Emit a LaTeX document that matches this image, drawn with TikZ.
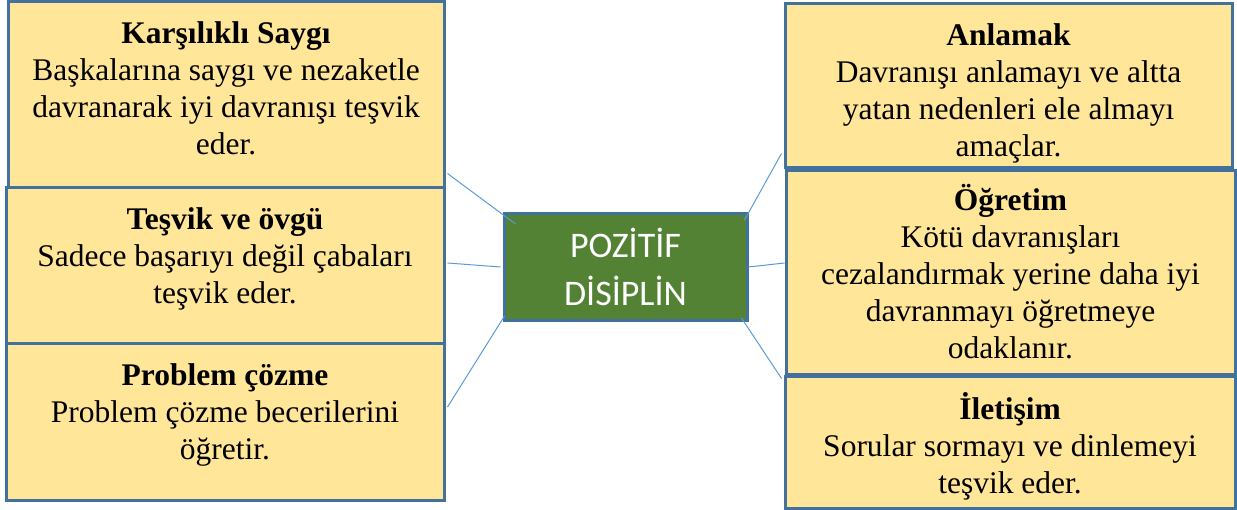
\documentclass[tikz,border=0pt]{standalone}
\usepackage{fontspec}
\setmainfont{Liberation Serif}
\newfontfamily\calfont{Carlito}
\definecolor{boxfill}{HTML}{FFE699}
\definecolor{boxline}{HTML}{41719C}
\definecolor{midfill}{HTML}{548235}
\definecolor{linkline}{HTML}{5B9BD5}

\begin{document}
\begin{tikzpicture}[x=1pt, y=-1pt,
  card/.style={draw=boxline, line width=3pt, fill=boxfill, rectangle, inner sep=0pt},
  cardtext/.style={anchor=north, inner sep=0pt, align=center, font=\fontsize{31.5}{37}\selectfont},
  link/.style={draw=linkline, line width=1pt}]
\useasboundingbox (0,0) rectangle (1237,510);
%\draw[help lines, step=50] (0,0) grid (1237,510);

% left column
\node [card, minimum width=436pt, minimum height=186pt] (ks) at (226,95) {};
\node [card, minimum width=438pt, minimum height=156pt] (tv) at (225,266) {};
\node [card, minimum width=438pt, minimum height=156pt] (pc) at (225,422) {};

% right column
\node [card, minimum width=447pt, minimum height=164pt] (an) at (1008.5,86) {};
\node [card, minimum width=449pt, minimum height=204pt] (og) at (1010.5,273) {};
\node [card, minimum width=450pt, minimum height=131pt] (il) at (1010,442.5) {};

\node [cardtext] (ks-t) at ([yshift=-17pt]ks.north) {\strut\textbf{Karşılıklı Saygı}\\Başkalarına saygı ve nezaketle\\davranarak iyi davranışı teşvik\\eder.};
\node [cardtext] (tv-t) at ([yshift=-17pt]tv.north) {\strut\textbf{Teşvik ve övgü}\\Sadece başarıyı değil çabaları\\teşvik eder.};
\node [cardtext] (pc-t) at ([yshift=-17pt]pc.north) {\strut\textbf{Problem çözme}\\Problem çözme becerilerini\\öğretir.};
\node [cardtext] (an-t) at ([yshift=-17pt]an.north) {\strut\textbf{Anlamak}\\Davranışı anlamayı ve altta\\yatan nedenleri ele almayı\\amaçlar.};
\node [cardtext] (og-t) at ([yshift=-15pt]og.north) {\strut\textbf{Öğretim}\\Kötü davranışları\\cezalandırmak yerine daha iyi\\davranmayı öğretmeye\\odaklanır.};
\node [cardtext] (il-t) at ([yshift=-17pt]il.north) {\strut\textbf{İletişim}\\Sorular sormayı ve dinlemeyi\\teşvik eder.};

% centre
\node [draw=boxline, line width=3pt, fill=midfill, minimum width=243pt, minimum height=107pt,
       text=white, align=center, font=\calfont\fontsize{36}{48}\selectfont] (pd) at (625.5,267) {POZİTİF\\DİSİPLİN};

\draw [link] ([xshift=2pt, yshift=16pt]ks.south east) -- ([xshift=13pt, yshift=-12pt]pd.north west);
\draw [link] ([xshift=2pt, yshift=3pt]tv.east) -- ([xshift=-2pt]pd.west);
\draw [link] ([xshift=2pt, yshift=15pt]pc.east) -- ([xshift=2pt, yshift=6pt]pd.south west);
\draw [link] ([xshift=-2pt, yshift=16pt]an.south west) -- ([xshift=-4pt, yshift=-8pt]pd.north east);
\draw [link] ([yshift=10pt]og.west) -- (pd.east);
\draw [link] ([xshift=-2pt, yshift=-3pt]il.north west) -- ([xshift=-7pt, yshift=4pt]pd.south east);
\end{tikzpicture}
\end{document}
